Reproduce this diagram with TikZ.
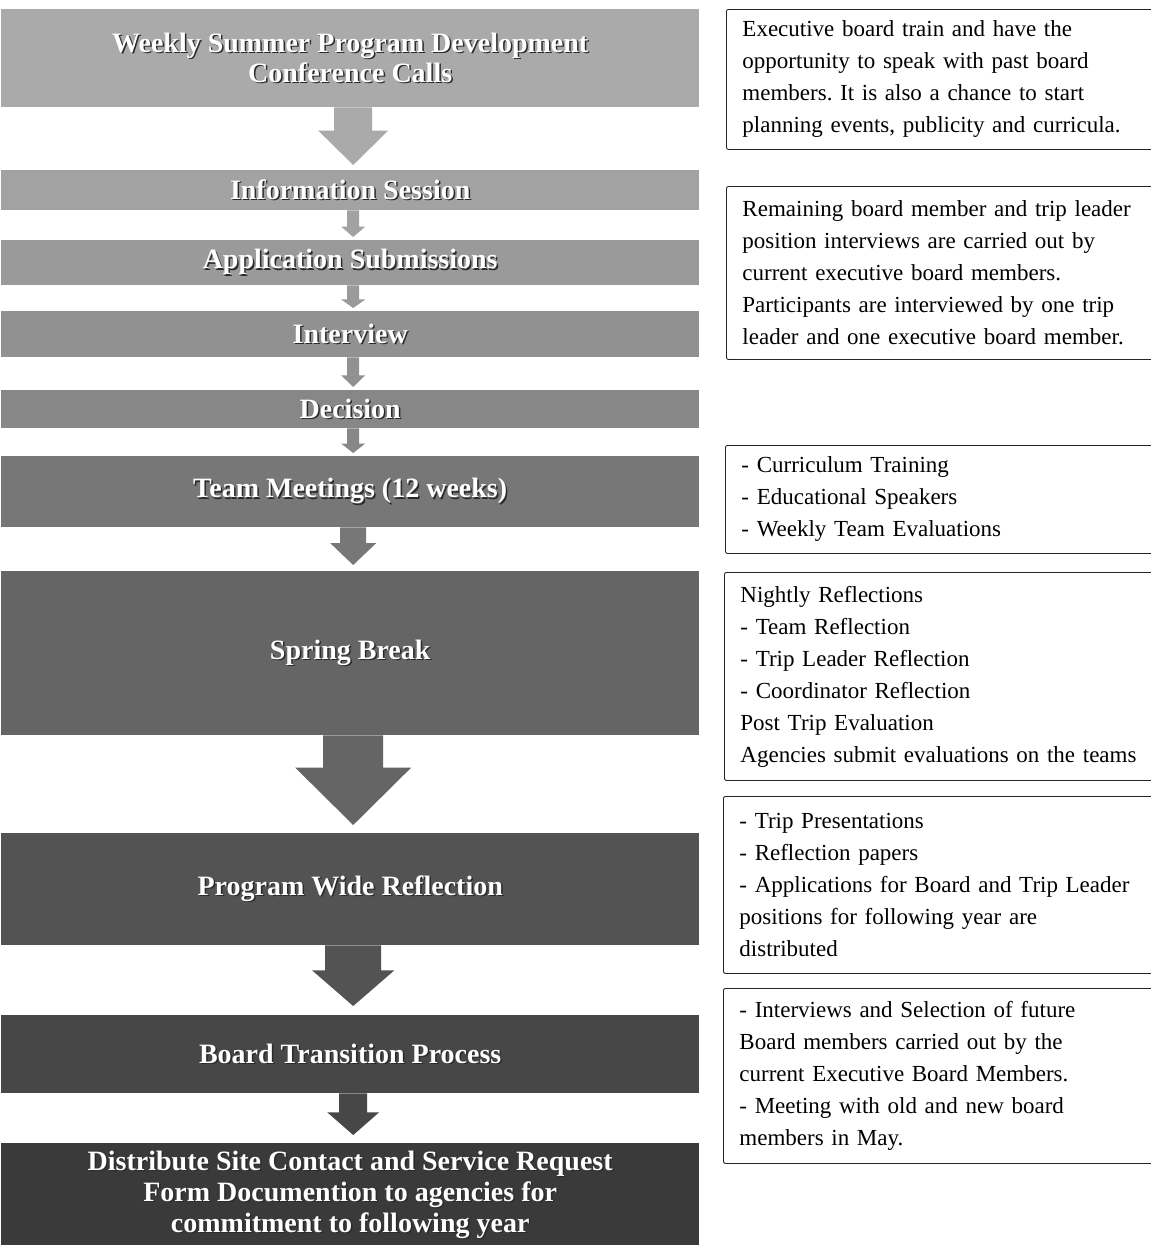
\documentclass[tikz,border=0pt]{standalone}
\usepackage{fontspec}
\setmainfont{Liberation Serif}
\usetikzlibrary{calc}
\frenchspacing
\definecolor{g1}{HTML}{AAAAAA}
\definecolor{g2}{HTML}{A2A2A2}
\definecolor{g3}{HTML}{9A9A9A}
\definecolor{g4}{HTML}{919191}
\definecolor{g5}{HTML}{878787}
\definecolor{g6}{HTML}{777777}
\definecolor{g7}{HTML}{656565}
\definecolor{g8}{HTML}{535353}
\definecolor{g9}{HTML}{474747}
\definecolor{g10}{HTML}{3A3A3A}
\definecolor{shadowc}{HTML}{2A2A2A}
\newcommand\shd[1]{\leavevmode\rlap{\kern1.5pt\raisebox{-1.5pt}{\textcolor{shadowc}{#1}}}#1}
% #1 from, #2 to, #3 shaft half width, #4 head half width, #5 head start fraction, #6 colour, #7 gap
\newcommand\flowarrow[7]{%
  \fill[#6] let \p1=($(#1.south)+(3,0)$), \p2=($(#2.north)+(3,0)$) in
    (\x1-#3pt,\y1) -- (\x1-#3pt,{\y1+(\y2-\y1)*#5}) -- (\x1-#4pt,{\y1+(\y2-\y1)*#5})
    -- (\x1,\y2+#7pt) -- (\x1+#4pt,{\y1+(\y2-\y1)*#5}) -- (\x1+#3pt,{\y1+(\y2-\y1)*#5})
    -- (\x1+#3pt,\y1) -- cycle;}
\tikzset{
  bar/.style={rectangle, anchor=north west, minimum width=698pt, inner sep=0pt,
    text=white, font=\fontsize{28}{30}\selectfont\bfseries, align=center},
  note/.style={rectangle, draw=black!85, line width=0.9pt, rounded corners=2pt,
    anchor=north west, text width=420pt, inner xsep=16pt, inner ysep=0pt,
    align=left, font=\fontsize{23}{32}\selectfont}
}
\begin{document}
\begin{tikzpicture}[x=1pt,y=1pt]
\fill[white] (0,0) rectangle (1151,-1245);
\useasboundingbox (0,0) rectangle (1151,-1245);

% left flow bars
\node[bar, fill=g1, minimum height=98pt] (b1) at (1,-9) {\shd{Weekly Summer Program Development}\\\shd{Conference Calls}};
\node[bar, fill=g2, minimum height=40pt] (b2) at (1,-170) {\shd{Information Session}};
\node[bar, fill=g3, minimum height=45pt] (b3) at (1,-240) {\shd{Application Submissions}};
\node[bar, fill=g4, minimum height=46pt] (b4) at (1,-311) {\shd{Interview}};
\node[bar, fill=g5, minimum height=38pt] (b5) at (1,-390) {\shd{Decision}};
\node[bar, fill=g6, minimum height=71pt] (b6) at (1,-456) {\shd{Team Meetings (12 weeks)}};
\node[bar, fill=g7, minimum height=164pt] (b7) at (1,-571) {\shd{Spring Break}};
\node[bar, fill=g8, minimum height=112pt] (b8) at (1,-833) {\shd{Program Wide Reflection}};
\node[bar, fill=g9, minimum height=78pt] (b9) at (1,-1015) {\shd{Board Transition Process}};
\node[bar, fill=g10, minimum height=104pt, font=\fontsize{28}{31}\selectfont\bfseries] (b10) at (1,-1143) {\shd{Distribute Site Contact and Service Request}\\\shd{Form Documention to agencies for}\\\shd{commitment to following year}};

% arrows
\flowarrow{b1}{b2}{19}{35}{0.37}{g1}{5}
\flowarrow{b2}{b3}{6}{12}{0.55}{g2}{3}
\flowarrow{b3}{b4}{6}{12}{0.55}{g3}{3}
\flowarrow{b4}{b5}{6}{12}{0.55}{g4}{3}
\flowarrow{b5}{b6}{6}{12}{0.55}{g5}{3}
\flowarrow{b6}{b7}{13}{23}{0.36}{g6}{6}
\flowarrow{b7}{b8}{30}{58}{0.33}{g7}{8}
\flowarrow{b8}{b9}{28}{41}{0.36}{g8}{9}
\flowarrow{b9}{b10}{14}{26}{0.38}{g9}{8}

% notes
\node[note, minimum height=140pt] (n1) at (726,-9) {Executive board train and have the\\opportunity to speak with past board\\members. It is also a chance to start\\planning events, publicity and curricula.};
\node[note, minimum height=173pt] (n2) at (726,-186) {Remaining board member and trip leader\\position interviews are carried out by\\current executive board members.\\Participants are interviewed by one trip\\leader and one executive board member.};
\node[note, minimum height=108pt] (n3) at (725,-445) {- Curriculum Training\\- Educational Speakers\\- Weekly Team Evaluations};
\node[note, minimum height=208pt] (n4) at (724,-572) {Nightly Reflections\\- Team Reflection\\- Trip Leader Reflection\\- Coordinator Reflection\\Post Trip Evaluation\\Agencies submit evaluations on the teams};
\node[note, minimum height=177pt] (n5) at (723,-796) {- Trip Presentations\\- Reflection papers\\- Applications for Board and Trip Leader\\positions for following year are\\distributed};
\node[note, minimum height=175pt] (n6) at (723,-988) {- Interviews and Selection of future\\Board members carried out by the\\current Executive Board Members.\\- Meeting with old and new board\\members in May.};
\end{tikzpicture}
\end{document}
